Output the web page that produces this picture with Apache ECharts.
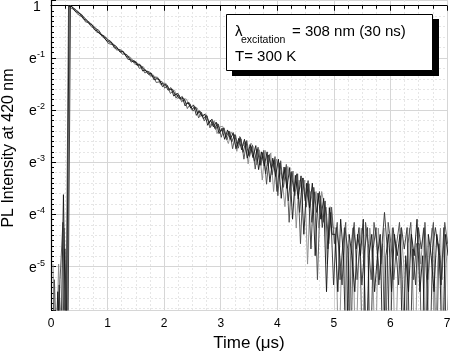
<!DOCTYPE html>
<html>
<head>
<meta charset="utf-8">
<script src="https://cdn.jsdelivr.net/npm/echarts@6/dist/echarts.min.js"></script>
<style>
html, body { margin: 0; padding: 0; background: #fff; }
#chart { width: 450px; height: 352px; }
</style>
</head>
<body>
<div id="chart"></div>
<script>
// ln(PL intensity), one sample every STEP microseconds.
// -7 means "no counts" (falls below the axis floor).
const STEP = 0.05;
const startA = 0.02, startB = 0.01, startC = 0.035, startD = 0.045;

const traceA = [
  -7, -7, -5.48, -7, -3.62, -7,
  0.00, -0.02, -0.10, -0.13, -0.16, -0.25, -0.28, -0.34, -0.36, -0.46,
  -0.48, -0.55, -0.57, -0.66, -0.69, -0.70, -0.81, -0.81, -0.89, -0.87,
  -0.96, -0.99, -1.08, -1.05, -1.14, -1.12, -1.25, -1.23, -1.31, -1.29,
  -1.42, -1.40, -1.42, -1.55, -1.51, -1.62, -1.57, -1.73, -1.69, -1.78,
  -1.74, -1.92, -1.85, -1.96, -1.90, -2.10, -2.01, -2.12, -2.08, -2.29,
  -2.19, -2.32, -2.23, -2.45, -2.35, -2.56, -2.38, -2.56, -2.43, -2.74,
  -2.54, -2.76, -2.56, -2.92, -2.66, -2.91, -2.68, -3.14, -2.80, -3.07,
  -2.80, -3.38, -2.92, -3.27, -2.94, -3.69, -3.09, -3.50, -3.10, -4.09,
  -3.25, -3.70, -3.26, -4.38, -3.40, -3.87, -3.40, -4.79, -3.59, -4.09,
  -3.69, -5.48, -3.87, -4.38,
  -4.38, -5.48, -4.09, -4.79, -7, -4.38, -4.79, -5.48, -4.38, -4.79,
  -4.09, -7, -4.79, -4.38, -5.48, -4.79, -4.38, -7, -4.79, -4.38,
  -5.48, -4.38, -4.79, -4.38, -7, -4.79, -5.48, -4.38, -4.79, -4.09,
  -5.48, -4.79, -7, -4.38, -4.79, -5.48, -4.38, -4.79, -7, -4.38, -4.79
];

const traceB = [
  -7, -5.25, -7, -5.25, -4.15, -7,
  0.00, -0.05, -0.07, -0.15, -0.19, -0.21, -0.31, -0.32, -0.40, -0.43,
  -0.51, -0.51, -0.60, -0.63, -0.72, -0.74, -0.75, -0.85, -0.84, -0.93,
  -0.92, -1.03, -1.03, -1.09, -1.08, -1.20, -1.18, -1.29, -1.25, -1.35,
  -1.34, -1.47, -1.46, -1.45, -1.58, -1.53, -1.68, -1.63, -1.77, -1.71,
  -1.84, -1.79, -1.97, -1.89, -2.02, -1.95, -2.15, -2.04, -2.21, -2.11,
  -2.34, -2.22, -2.37, -2.27, -2.52, -2.34, -2.57, -2.41, -2.74, -2.47,
  -2.73, -2.55, -2.94, -2.58, -2.89, -2.67, -3.13, -2.71, -3.06, -2.77,
  -3.42, -2.85, -3.24, -2.89, -3.64, -2.97, -3.48, -3.04, -4.15, -3.17,
  -3.64, -3.22, -4.56, -3.30, -3.86, -3.41, -4.15, -3.57, -5.25, -3.64,
  -4.15, -3.86, -4.56, -3.86,
  -4.56, -4.15, -5.25, -4.56, -4.15, -7, -4.56, -4.15, -5.25, -4.56,
  -7, -4.15, -4.56, -5.25, -4.15, -4.56, -5.25, -4.56, -7, -4.15,
  -4.56, -5.25, -4.56, -4.15, -5.25, -7, -4.56, -4.15, -5.25, -4.56,
  -4.56, -7, -4.15, -5.25, -4.56, -4.15, -7, -4.56, -5.25, -4.15, -4.56
];

const traceC = [
  -4.95, -7, -4.95, -7, -4.26, -7,
  0.00, -0.03, -0.09, -0.11, -0.21, -0.23, -0.27, -0.36, -0.38, -0.42,
  -0.52, -0.54, -0.61, -0.61, -0.71, -0.72, -0.76, -0.83, -0.88, -0.88,
  -0.99, -0.97, -1.02, -1.13, -1.10, -1.16, -1.17, -1.27, -1.33, -1.30,
  -1.36, -1.37, -1.51, -1.48, -1.49, -1.60, -1.61, -1.62, -1.78, -1.75,
  -1.83, -1.78, -1.87, -2.00, -1.95, -1.96, -2.12, -2.10, -2.07, -2.21,
  -2.31, -2.20, -2.45, -2.32, -2.31, -2.51, -2.64, -2.42, -2.52, -2.79,
  -2.50, -2.70, -2.62, -3.03, -2.63, -2.72, -3.05, -2.76, -3.34, -2.77,
  -3.07, -2.82, -3.56, -2.94, -3.12, -3.34, -3.85, -3.08, -3.34, -3.17,
  -4.26, -3.34, -3.56, -3.34, -4.95, -3.56, -3.85, -3.56, -4.26, -3.56,
  -3.85, -4.95, -3.85, -4.26,
  -4.26, -7, -4.95, -4.26, -7, -4.95, -4.26, -7, -4.95, -4.26,
  -4.95, -7, -4.26, -4.95, -7, -4.26, -4.95, -4.26, -7, -4.95,
  -4.26, -7, -4.95, -4.26, -4.95, -7, -4.26, -4.95, -7, -4.26,
  -4.95, -4.26, -7, -4.95, -4.26, -7, -4.95, -4.26, -7, -4.95, -4.26
];

const traceD = [
  -7, -7, -5.35, -7, -4.66, -7,
  0.00, -0.04, -0.08, -0.14, -0.17, -0.24, -0.29, -0.33, -0.39, -0.44,
  -0.47, -0.56, -0.58, -0.65, -0.67, -0.75, -0.77, -0.84, -0.85, -0.92,
  -0.94, -1.01, -1.06, -1.07, -1.15, -1.15, -1.22, -1.26, -1.27, -1.36,
  -1.38, -1.39, -1.49, -1.50, -1.52, -1.61, -1.60, -1.70, -1.68, -1.79,
  -1.77, -1.88, -1.86, -1.98, -1.93, -2.06, -2.03, -2.17, -2.10, -2.25,
  -2.17, -2.35, -2.26, -2.42, -2.34, -2.52, -2.40, -2.61, -2.47, -2.69,
  -2.52, -2.81, -2.60, -2.87, -2.70, -2.98, -2.74, -3.05, -2.81, -3.22,
  -2.86, -3.12, -2.95, -3.56, -3.01, -3.35, -3.10, -3.74, -3.19, -3.56,
  -3.22, -3.96, -3.30, -3.74, -3.35, -4.66, -3.48, -3.96, -3.56, -4.25,
  -3.74, -4.66, -3.96, -5.35,
  -4.25, -4.66, -5.35, -4.25, -4.66, -7, -4.25, -4.66, -4.25, -5.35,
  -4.66, -4.25, -7, -4.66, -4.25, -5.35, -4.66, -3.96, -4.66, -7,
  -4.25, -4.66, -5.35, -4.25, -4.66, -4.25, -7, -4.66, -5.35, -4.25,
  -4.66, -4.25, -5.35, -7, -4.66, -4.25, -4.66, -5.35, -4.25, -7, -4.66
];

const FONT = '"Liberation Sans", Arial, sans-serif';

function toPoints(start, values) {
  return values.map((v, i) => [+(start + i * STEP).toFixed(3), v]);
}

function traceSeries(color, start, values) {
  return {
    type: 'line',
    data: toPoints(start, values),
    showSymbol: false,
    clip: true,
    silent: true,
    lineStyle: { color: color, width: 0.9 },
    animation: false
  };
}

const chart = echarts.init(document.getElementById('chart'));

const option = {
  backgroundColor: '#fff',
  animation: false,
  grid: { left: 51, right: 3, top: 0, bottom: 42, containLabel: false, outerBoundsMode: 'none' },
  xAxis: {
    type: 'value',
    min: 0,
    max: 7,
    interval: 1,
    name: 'Time (\u03bcs)',
    nameLocation: 'middle',
    nameGap: 23,
    nameTextStyle: { fontFamily: FONT, fontSize: 17, color: '#000' },
    axisLine: { show: true, lineStyle: { color: '#000', width: 1.2 } },
    axisTick: { show: true, inside: false, length: 5, lineStyle: { color: '#000' } },
    minorTick: { show: true, splitNumber: 4, length: 3, lineStyle: { color: '#000' } },
    axisLabel: { fontFamily: FONT, fontSize: 12, color: '#000', margin: 8 },
    splitLine: { show: true, lineStyle: { color: '#d6d6d6', width: 1 } },
    minorSplitLine: { show: true, lineStyle: { color: '#e6e6e6', width: 1, type: [2, 2] } }
  },
  yAxis: [{
    type: 'value',
    min: -5.83,
    max: 0.11,
    splitNumber: 6,
    name: 'PL Intensity at 420 nm',
    nameLocation: 'middle',
    nameGap: 34,
    nameTextStyle: { fontFamily: FONT, fontSize: 16, color: '#000', padding: [0, 0, 0, 14] },
    axisLine: { show: true, lineStyle: { color: '#000', width: 1.2 } },
    axisTick: { show: true, inside: true, length: 5, lineStyle: { color: '#000' } },
    minorTick: { show: true, splitNumber: 10, length: 3, lineStyle: { color: '#000' } },
    axisLabel: {
      showMinLabel: false,
      showMaxLabel: false,
      align: 'center',
      margin: 14,
      formatter: function (v) {
        if (Math.abs(v) < 1e-6) return '{e|1}';
        return '{e|e}{s|' + Math.round(v) + '}';
      },
      rich: {
        e: { fontFamily: FONT, fontSize: 14, color: '#000', lineHeight: 16, verticalAlign: 'bottom' },
        s: { fontFamily: FONT, fontSize: 9, color: '#000', lineHeight: 10, verticalAlign: 'top' }
      }
    },
    splitLine: { show: true, lineStyle: { color: '#d6d6d6', width: 1 } },
    minorSplitLine: { show: false }
  }, {
    type: 'value',
    min: -5.83,
    max: 0.11,
    splitNumber: 6,
    axisLine: { show: false },
    axisTick: { show: false },
    axisLabel: { show: false },
    splitLine: { show: false },
    minorTick: { show: false, splitNumber: 5 },
    minorSplitLine: { show: true, lineStyle: { color: '#e6e6e6', width: 1, type: [2, 2] } }
  }],
  series: [
    traceSeries('#8a8a8a', startC, traceC),
    traceSeries('#4a4a4a', startB, traceB),
    traceSeries('#303030', startD, traceD),
    traceSeries('#141414', startA, traceA)
  ],
  graphic: [
    { type: 'rect', z: 100, silent: true, shape: { x: 232, y: 19, width: 207, height: 57 }, style: { fill: '#000' } },
    { type: 'rect', z: 101, silent: true, shape: { x: 226.5, y: 14.5, width: 206, height: 56 }, style: { fill: '#fff', stroke: '#000', lineWidth: 1 } },
    { type: 'text', z: 102, silent: true, x: 235, y: 31.5, style: { text: '\u03bb', font: '15px ' + FONT, fill: '#000', verticalAlign: 'middle' } },
    { type: 'text', z: 102, silent: true, x: 241, y: 40.5, style: { text: 'excitation', font: '10.5px ' + FONT, fill: '#000', verticalAlign: 'middle' } },
    { type: 'text', z: 102, silent: true, x: 292, y: 31.5, style: { text: '= 308 nm (30 ns)', font: '15px ' + FONT, fill: '#000', verticalAlign: 'middle' } },
    { type: 'text', z: 102, silent: true, x: 235, y: 56.5, style: { text: 'T= 300 K', font: '15px ' + FONT, fill: '#000', verticalAlign: 'middle' } }
  ]
};

chart.setOption(option);
</script>
</body>
</html>
